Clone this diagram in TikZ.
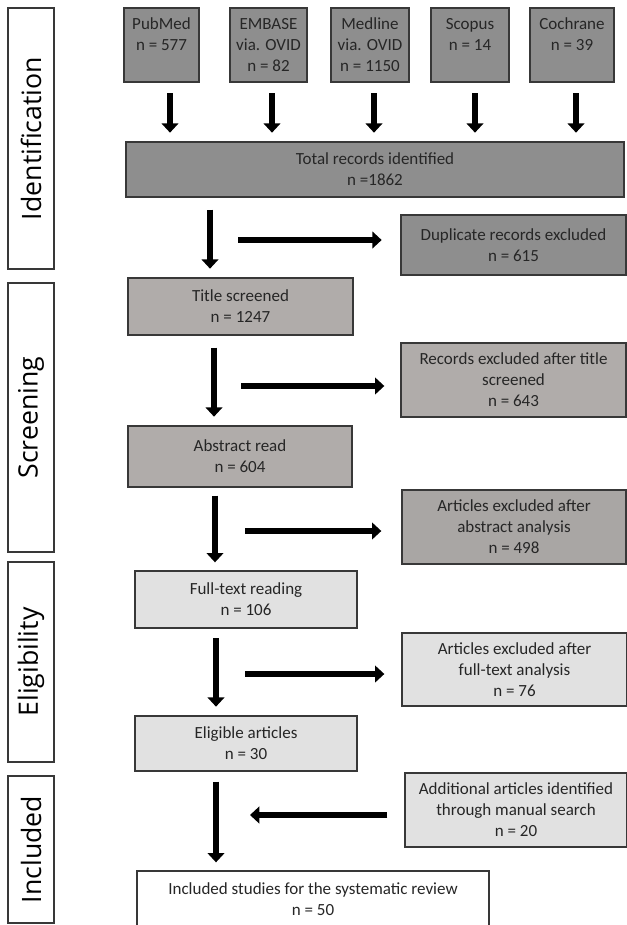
\documentclass[tikz,border=0pt]{standalone}
\usepackage{fontspec}
\setmainfont{Carlito}
\newfontfamily\sidefont{Open Sans}
\usetikzlibrary{arrows.meta}
\definecolor{dkgray}{HTML}{8E8E8E}
\definecolor{mdgray}{HTML}{B0ACAA}
\definecolor{mdgrayb}{HTML}{A9A6A4}
\definecolor{ltgray}{HTML}{E1E1E1}
\definecolor{edge}{HTML}{383838}
\definecolor{txt}{HTML}{262626}
\tikzset{
  box/.style={draw=edge, line width=1pt, align=center, inner sep=0pt, text=txt,
    font=\fontsize{12.75}{15.75}\selectfont},
  sz/.style 2 args={minimum width=#1*0.75pt, minimum height=#2*0.75pt},
  phase/.style={draw=edge, line width=1pt, fill=white, rotate=90, inner sep=0pt,
    font=\sidefont\fontsize{20}{24}\selectfont},
  arr/.style={line width=5pt, -{Triangle[length=7pt,width=12.5pt]}},
}
\begin{document}
\begin{tikzpicture}[x=0.75pt,y=-0.75pt]
\useasboundingbox (0,0) rectangle (627,925);
\node[phase, sz={261}{46}] (idf) at (31,138.5) {Identification};
\node[phase, sz={269}{46}] (scr) at (31,417.5) {Screening};
\node[phase, sz={200}{46}] (elg) at (31,662) {Eligibility};
\node[phase, sz={147}{46}] (inc) at (31,849.5) {Included};
\node[box, fill=dkgray, sz={75}{74}] (pub) at (161.5,45) {PubMed\\n = 577\\~};
\node[box, fill=dkgray, sz={77}{74}] (emb) at (268.5,45) {EMBASE\\via. OVID\\n = 82};
\node[box, fill=dkgray, sz={78}{74}] (med) at (370,45) {Medline\\via. OVID\\n = 1150};
\node[box, fill=dkgray, sz={78}{74}] (sco) at (470,45) {Scopus\\n = 14\\~};
\node[box, fill=dkgray, sz={84}{74}] (coc) at (572,45) {Cochrane\\n = 39\\~};
\node[box, fill=dkgray, sz={498}{55}] (tot) at (375,169.5) {Total records identified\\n =1862};
\node[box, fill=dkgray, sz={225}{60}] (dup) at (513.5,245) {Duplicate records excluded\\n = 615};
\node[box, fill=mdgray, sz={225}{57}] (tit) at (240.5,306.5) {Title screened\\n = 1247};
\node[box, fill=mdgray, sz={225}{74}] (rec) at (513.5,380) {Records excluded after title\\screened\\n = 643};
\node[box, fill=mdgray, sz={224}{61}] (abs) at (240,456.5) {Abstract read\\n = 604};
\node[box, fill=mdgrayb, sz={224}{74}] (abx) at (514,527) {Articles excluded after\\abstract analysis\\n = 498};
\node[box, fill=ltgray, sz={222}{57}] (ful) at (246,599.5) {Full-text reading\\n = 106};
\node[box, fill=ltgray, sz={225}{73}] (fux) at (514.5,669.5) {Articles excluded after\\full-text analysis\\n = 76};
\node[box, fill=ltgray, sz={222}{55}] (eli) at (246,743.5) {Eligible articles\\n = 30};
\node[box, fill=ltgray, sz={222}{74}] (add) at (516,810) {Additional articles identified\\through manual search\\n = 20};
\node[box, fill=white, sz={352}{56}] (res) at (313,899) {Included studies for the systematic review\\n = 50};
\foreach \n/\x in {pub/170,emb/272,med/374,sco/475,coc/576}{
  \coordinate (s\n) at (\x,0);
  \draw[arr, shorten <=8pt, shorten >=6.5pt] (s\n |- \n.south) -- (s\n |- tot.north);
}
\coordinate (v1) at (210,0);
\coordinate (v2) at (214,0);
\coordinate (v3) at (215,0);
\coordinate (v4) at (216,0);
\draw[arr, shorten <=9pt, shorten >=6.5pt] (v1 |- tot.south) -- (v1 |- tit.north);
\draw[arr, shorten <=9pt, shorten >=6.5pt] (v2 |- tit.south) -- (v2 |- abs.north);
\draw[arr, shorten <=6pt, shorten >=6pt] (v3 |- abs.south) -- (v3 |- ful.north);
\draw[arr, shorten <=7pt, shorten >=6.5pt] (v4 |- ful.south) -- (v4 |- eli.north);
\draw[arr, shorten <=7.5pt, shorten >=6pt] (v4 |- eli.south) -- (v4 |- res.north);
\coordinate (h1) at (238,240);
\coordinate (h2) at (241,386);
\coordinate (h3) at (245,531);
\coordinate (h4) at (245,674);
\coordinate (h5) at (250,815);
\draw[arr, shorten >=14pt] (h1) -- (h1 -| dup.west);
\draw[arr, shorten >=12pt] (h2) -- (h2 -| rec.west);
\draw[arr, shorten >=15pt] (h3) -- (h3 -| abx.west);
\draw[arr, shorten >=12.75pt] (h4) -- (h4 -| fux.west);
\draw[arr, shorten <=12.75pt] (h5 -| add.west) -- (h5);
\end{tikzpicture}
\end{document}
